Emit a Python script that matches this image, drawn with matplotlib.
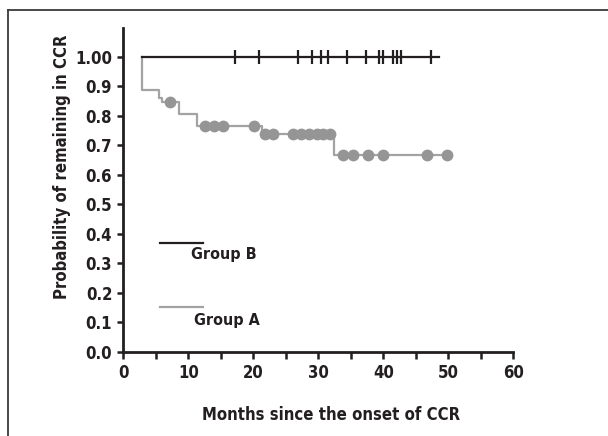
import numpy as np
import matplotlib
matplotlib.use("Agg")
import matplotlib.pyplot as plt
from matplotlib.lines import Line2D

plt.rcParams['font.family'] = ['DejaVu Sans']
plt.rcParams['font.stretch'] = 'condensed'
plt.rcParams['font.weight'] = 'bold'

# Group A (Kaplan-Meier step curve)
a_start = 2.9
a_end = 49.8
a_event_times = [2.9, 5.5, 5.9, 8.5, 11.3, 21.3, 32.4]
a_surv_after = [0.886, 0.859, 0.847, 0.806, 0.766, 0.737, 0.666]
a_censor = [7.2, 12.6, 13.9, 15.3, 20.1, 21.8, 23.1, 26.1, 27.3, 28.6, 29.8,
            30.7, 31.8, 33.8, 35.3, 37.6, 39.9, 46.8, 49.8]

# Group B (no events)
b_start = 2.9
b_end = 48.5
b_surv = 1.0
b_censor = [17.2, 20.9, 26.9, 29.1, 30.4, 31.5, 34.4, 37.3, 39.4, 39.9,
            41.5, 42.1, 42.8, 47.3]

xticks = [0, 10, 20, 30, 40, 50, 60]
yticks = [0.0, 0.1, 0.2, 0.3, 0.4, 0.5, 0.6, 0.7, 0.8, 0.9, 1.0]
ytick_labels = ['0.0', '0.1', '0.2', '0.3', '0.4', '0.5', '0.6', '0.7', '0.8', '0.9', '1.00']

black = '#231f20'
grey_line = '#a3a3a3'
grey_dot = '#959595'

fig = plt.figure(figsize=(6.08, 4.36), dpi=100)
ax = fig.add_axes([0.2028, 0.1933, 0.6414, 0.7424])

# Group A curve
ax_x = [a_start] + a_event_times + [a_end]
ax_y = [1.0] + a_surv_after + [a_surv_after[-1]]
ax.step(ax_x, ax_y, where='post', color=grey_line, lw=1.6, zorder=2)
st = np.array(ax_x)
sv = np.array(ax_y)
idx = np.searchsorted(st, np.array(a_censor), side='right') - 1
ax.plot(a_censor, sv[idx], 'o', color=grey_dot, ms=8.5, mec='none', zorder=3)

# Group B curve
ax.plot([b_start, b_end], [b_surv, b_surv], color=black, lw=1.6, zorder=4)
ax.plot(b_censor, [b_surv] * len(b_censor), '|', color=black, ms=10, mew=1.6, zorder=5)

# manual legend
ax.plot([5.6, 12.2], [0.367, 0.367], color=black, lw=1.6, clip_on=False)
ax.text(10.4, 0.33, 'Group B', fontsize=11.5, fontweight='bold', ha='left', va='center', color=black)
ax.plot([5.6, 12.2], [0.153, 0.153], color=grey_line, lw=1.6, clip_on=False)
ax.text(10.9, 0.105, 'Group A', fontsize=11.5, fontweight='bold', ha='left', va='center', color=black)

ax.set_xlim(0, 60)
ax.set_ylim(0, 1.097)
ax.set_xticks(xticks)
ax.set_xticks([5, 15, 25, 35, 45, 55], minor=True)
ax.set_yticks(yticks)
ax.set_yticklabels(ytick_labels)
for lab in ax.get_xticklabels() + ax.get_yticklabels():
    lab.set_fontweight('bold')
    lab.set_fontsize(12)
    lab.set_color(black)

for s in ['top', 'right']:
    ax.spines[s].set_visible(False)
for s in ['left', 'bottom']:
    ax.spines[s].set_linewidth(2.0)
    ax.spines[s].set_color(black)
ax.tick_params(axis='both', which='both', direction='out', width=1.8, color=black)
ax.tick_params(axis='y', length=4, pad=4)
ax.tick_params(axis='x', which='both', length=5, pad=4)

ax.text(-0.158, 0.57, 'Probability of remaining in CCR', transform=ax.transAxes,
        rotation=90, ha='center', va='center', fontsize=12, fontweight='bold', color=black)
ax.text(0.534, -0.196, 'Months since the onset of CCR', transform=ax.transAxes,
        ha='center', va='center', fontsize=12, fontweight='bold', color=black)

# frame border of the figure (top and left visible)
fig.add_artist(Line2D([8 / 608, 1.0], [1 - 10 / 436, 1 - 10 / 436], transform=fig.transFigure,
                      color='#3a3a3a', lw=1.3))
fig.add_artist(Line2D([8 / 608, 8 / 608], [0.0, 1 - 10 / 436], transform=fig.transFigure,
                      color='#3a3a3a', lw=1.3))

fig.savefig('out.png', dpi=100)
